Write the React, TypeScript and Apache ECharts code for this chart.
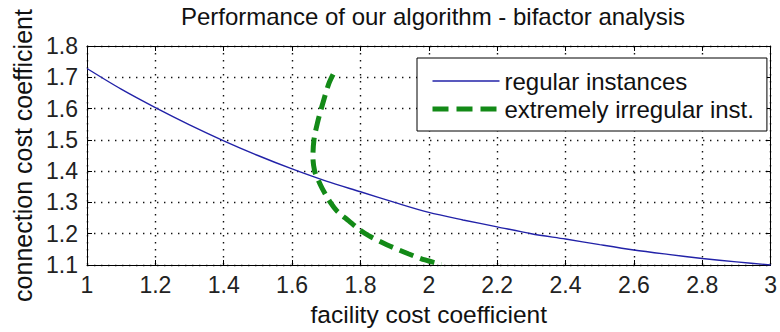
import React, { useEffect, useRef } from "react";
import * as echarts from "echarts";

const titleText = "Performance of our algorithm - bifactor analysis";
const xName = "facility cost coefficient";
const yName = "connection cost coefficient";
const seriesNames = ["regular instances", "extremely irregular inst."];

const xTicks = [1, 1.2, 1.4, 1.6, 1.8, 2, 2.2, 2.4, 2.6, 2.8, 3];
const yTicks = [1.1, 1.2, 1.3, 1.4, 1.5, 1.6, 1.7, 1.8];

const regularX = [1.0, 1.1, 1.2, 1.3, 1.4, 1.5, 1.6, 1.7, 1.8, 1.9, 2.0, 2.1, 2.2, 2.3, 2.4, 2.5, 2.6, 2.7, 2.8, 2.9, 3.0];
const regularY = [1.728, 1.662, 1.603, 1.548, 1.497, 1.45, 1.407, 1.368, 1.334, 1.30, 1.268, 1.244, 1.222, 1.20, 1.183, 1.165, 1.148, 1.134, 1.121, 1.11, 1.10];

const irregularX = [1.72, 1.707, 1.688, 1.674, 1.664, 1.661, 1.666, 1.675, 1.688, 1.712, 1.732, 1.766, 1.795, 1.824, 1.877, 1.94, 1.989, 2.037];
const irregularY = [1.709, 1.678, 1.61, 1.553, 1.5, 1.444, 1.4, 1.375, 1.345, 1.3, 1.272, 1.241, 1.215, 1.194, 1.165, 1.136, 1.116, 1.102];

const FONT = "Liberation Sans";
const BLUE = "#2222a8";
const GREEN = "#138a17";

export default function App() {
  const ref = useRef<HTMLDivElement>(null);
  useEffect(() => {
    if (!ref.current) return;
    const chart = echarts.init(ref.current, undefined, { renderer: "svg" });
    const fmt = (v: number) => String(parseFloat(v.toFixed(1)));
    const xStep = +(xTicks[1] - xTicks[0]).toFixed(3);
    const yStep = +(yTicks[1] - yTicks[0]).toFixed(3);
    const grid = { left: 87, right: 6, top: 46, bottom: 61 };
    const axisLine = { show: true, lineStyle: { color: "#000", width: 1 } };
    const tick = { show: true, inside: true, length: 5, lineStyle: { color: "#000" } };
    const split = { show: true, lineStyle: { color: "#111", width: 1.4, type: [1.4, 5.6] } };
    chart.setOption({
      animation: false,
      backgroundColor: "#fff",
      title: {
        text: titleText,
        left: 428,
        textAlign: "center",
        top: -1,
        textStyle: { fontFamily: FONT, fontSize: 24, fontWeight: "normal", color: "#111" },
      },
      legend: {
        left: 417,
        top: 58,
        orient: "vertical",
        backgroundColor: "#fff",
        borderColor: "#000",
        borderWidth: 1,
        borderRadius: 0,
        padding: [11, 13, 10, 13],
        itemGap: 4,
        itemWidth: 67,
        itemHeight: 24,
        itemStyle: { opacity: 0 },
        textStyle: { fontFamily: FONT, fontSize: 24, color: "#111" },
        data: [
          { name: seriesNames[0], lineStyle: { color: BLUE, width: 1.4 } },
          { name: seriesNames[1], lineStyle: { color: GREEN, width: 5, type: [16, 8] } },
        ],
      },
      grid,
      xAxis: [
        {
          type: "value",
          min: xTicks[0],
          max: xTicks[xTicks.length - 1],
          interval: xStep,
          position: "bottom",
          name: xName,
          nameLocation: "middle",
          nameGap: 37,
          nameTextStyle: { fontFamily: FONT, fontSize: 24.5, color: "#111" },
          axisLine,
          axisTick: tick,
          axisLabel: { fontFamily: FONT, fontSize: 23, color: "#222", margin: 8, formatter: fmt },
          splitLine: split,
        },
        {
          type: "value",
          min: xTicks[0],
          max: xTicks[xTicks.length - 1],
          interval: xStep,
          position: "top",
          axisLine,
          axisTick: tick,
          axisLabel: { show: false },
          splitLine: { show: false },
        },
      ],
      yAxis: [
        {
          type: "value",
          min: yTicks[0],
          max: yTicks[yTicks.length - 1],
          interval: yStep,
          position: "left",
          name: yName,
          nameLocation: "middle",
          nameGap: 51,
          nameTextStyle: { fontFamily: FONT, fontSize: 25, color: "#111" },
          axisLine,
          axisTick: tick,
          axisLabel: { fontFamily: FONT, fontSize: 23, color: "#222", margin: 9, formatter: fmt },
          splitLine: split,
        },
        {
          type: "value",
          min: yTicks[0],
          max: yTicks[yTicks.length - 1],
          interval: yStep,
          position: "right",
          axisLine,
          axisTick: tick,
          axisLabel: { show: false },
          splitLine: { show: false },
        },
      ],
      series: [
        {
          name: seriesNames[0],
          type: "line",
          data: regularX.map((x, i) => [x, regularY[i]]),
          showSymbol: false,
          symbol: "none",
          smooth: 0.3,
          lineStyle: { color: BLUE, width: 1.4 },
          itemStyle: { color: BLUE },
          z: 3,
        },
        {
          name: seriesNames[1],
          type: "line",
          data: irregularX.map((x, i) => [x, irregularY[i]]),
          showSymbol: false,
          symbol: "none",
          smooth: 0.3,
          lineStyle: { color: GREEN, width: 5, type: [15, 7], cap: "butt" },
          itemStyle: { color: GREEN },
          z: 4,
        },
      ],
    });
    return () => chart.dispose();
  }, []);
  return (
    <div
      ref={ref}
      style={{ position: "fixed", left: 0, top: 0, width: 780, height: 332 }}
    />
  );
}
